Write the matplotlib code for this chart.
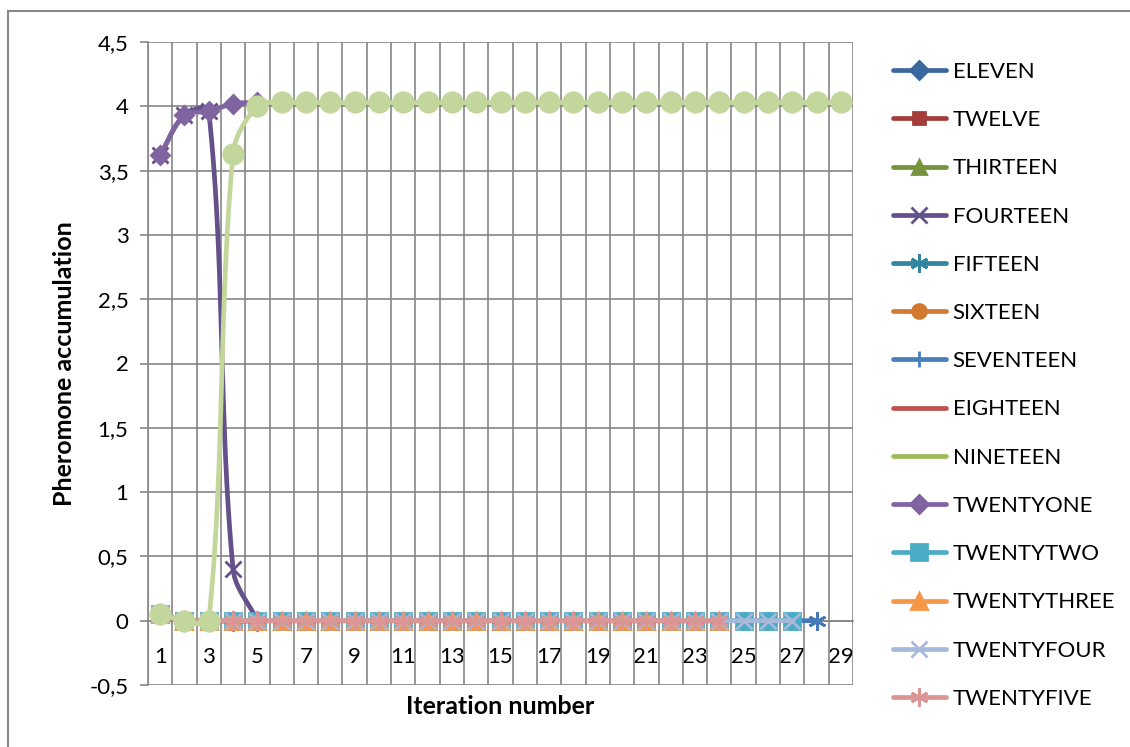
import matplotlib
matplotlib.use("Agg")
import matplotlib.pyplot as plt
import numpy as np
from matplotlib.lines import Line2D
from matplotlib.ticker import FixedLocator, FuncFormatter

plt.rcParams['font.family'] = ['Lato', 'DejaVu Sans']

# pheromone accumulation per iteration, one list per node
fourteen = [3.62, 3.93, 3.96, 0.40, 0.0]
twentyone = [3.62, 3.93, 3.96, 4.02, 4.03]
twentytwo = [0.05] + [0.0] * 26
twentythree = [0.05] + [0.0] * 23
twentyfour = [0.05] + [0.0] * 26
twentyfive = [0.05] + [0.0] * 23
twentysix = [0.05, 0.0, 0.0, 3.63, 4.0] + [4.03] * 24
twentyseven = [0.05] + [0.0] * 27
hidden_zero = [0.05, 0.0, 0.0, 0.0, 0.0]

x_labels = list(range(1, 30, 2))
y_ticks = [-0.5, 0, 0.5, 1, 1.5, 2, 2.5, 3, 3.5, 4, 4.5]

GRID = '#868686'
# pixels per data unit, used so the smoothing works in screen space
KX, KY = 705 / 29, 643 / 5


def smooth(xs, ys, n=30):
    """Smoothed line through the points (Bezier, chord-length tangents)."""
    pts = np.column_stack([np.asarray(xs, float) * KX, np.asarray(ys, float) * KY])
    if len(pts) < 3:
        return pts[:, 0] / KX, pts[:, 1] / KY
    ext = np.vstack([pts[0], pts, pts[-1]])
    t = np.linspace(0, 1, n, endpoint=False)[:, None]
    out = []
    for i in range(1, len(ext) - 2):
        p0, p1, p2, p3 = ext[i - 1], ext[i], ext[i + 1], ext[i + 2]
        seg = np.linalg.norm(p2 - p1)
        d1 = p2 - p0
        d2 = p3 - p1
        t1 = d1 / (np.linalg.norm(d1) or 1)
        t2 = d2 / (np.linalg.norm(d2) or 1)
        c1 = p1 + t1 * seg / 3
        c2 = p2 - t2 * seg / 3
        out.append((1 - t) ** 3 * p1 + 3 * (1 - t) ** 2 * t * c1
                   + 3 * (1 - t) * t ** 2 * c2 + t ** 3 * p2)
    out.append(pts[-1][None, :])
    out = np.vstack(out)
    return out[:, 0] / KX, out[:, 1] / KY


fig = plt.figure(figsize=(11.3, 7.47), dpi=100)
ax = fig.add_axes([148 / 1130, 62 / 747, 705 / 1130, 643 / 747])

asterisk = (6, 2, 0)
series = [
    # label, values, color, marker, marker size
    ('_extra', twentyseven, '#4679B8', asterisk, 13),
    ('ELEVEN', hidden_zero, '#3A67A0', 'D', 9),
    ('TWELVE', hidden_zero, '#A33C3A', 's', 9),
    ('THIRTEEN', hidden_zero, '#77933C', '^', 10),
    ('FOURTEEN', fourteen, '#64508A', 'x', 11),
    ('FIFTEEN', hidden_zero, '#31859C', asterisk, 13),
    ('SIXTEEN', hidden_zero, '#D3792F', 'o', 10),
    ('SEVENTEEN', hidden_zero, '#4A7EBB', '|', 12),
    ('EIGHTEEN', hidden_zero, '#C0504D', None, 0),
    ('NINETEEN', hidden_zero, '#9BBB59', None, 0),
    ('TWENTYONE', twentyone, '#8064A2', 'D', 9),
    ('TWENTYTWO', twentytwo, '#4BACC6', 's', 11),
    ('TWENTYTHREE', twentythree, '#F79646', '^', 11),
    ('TWENTYFOUR', twentyfour, '#A7B9DA', 'x', 11),
    ('TWENTYFIVE', twentyfive, '#D99694', asterisk, 13),
    ('_extra2', twentysix, '#C3D69B', 'o', 14),
]

handles = []
for z, (label, vals, color, marker, ms) in enumerate(series):
    xs = np.arange(1, len(vals) + 1)
    sx, sy = smooth(xs, vals)
    ax.plot(sx, sy, color=color, lw=3.4, solid_capstyle='round', zorder=3 + z)
    if marker is not None:
        ax.plot(xs, vals, ls='none', marker=marker, ms=ms, color=color,
                mec=color, mew=2, zorder=3 + z, clip_on=False)
    if not label.startswith('_'):
        handles.append(Line2D([], [], color=color, lw=3.4, marker=marker,
                              ms=ms, mec=color, mew=2, solid_capstyle='round',
                              label=label))

ax.set_xlim(0.5, 29.5)
ax.set_ylim(-0.5, 4.5)

ax.xaxis.set_major_locator(FixedLocator(x_labels))
ax.xaxis.set_minor_locator(FixedLocator(np.arange(0.5, 30, 1)))
ax.yaxis.set_major_locator(FixedLocator(y_ticks))
ax.yaxis.set_major_formatter(FuncFormatter(lambda v, p: f'{v:g}'.replace('.', ',')))

ax.grid(True, which='minor', axis='x', color=GRID, lw=1.2, zorder=0)
ax.grid(True, which='major', axis='y', color=GRID, lw=1.2, zorder=0)
ax.set_axisbelow(True)

for side in ('top', 'right'):
    ax.spines[side].set_visible(False)
ax.spines['bottom'].set_position(('data', 0))
ax.spines['bottom'].set_color(GRID)
ax.spines['bottom'].set_linewidth(1.2)
ax.spines['left'].set_color(GRID)
ax.spines['left'].set_linewidth(1.2)

ax.tick_params(axis='x', which='both', length=0, pad=19, labelsize=16)
ax.tick_params(axis='y', length=6, width=1.2, color=GRID, pad=8, labelsize=16)

ax.set_ylabel('Pheromone accumulation', fontsize=18, fontweight='bold', labelpad=10)
fig.text(500 / 1130, 1 - 706 / 747, 'Iteration number', fontsize=18,
         fontweight='bold', ha='center', va='center')

fig.legend(handles=handles, loc='upper left', bbox_to_anchor=(884 / 1130, 1 - 53 / 747),
           frameon=False, fontsize=16, handlelength=2.39, handletextpad=0.3,
           labelspacing=1.27, numpoints=1, borderaxespad=0)

# outer chart frame
fig.add_artist(Line2D([8 / 1130, 8 / 1130], [0, 1 - 11 / 747], color='#888888', lw=1.5))
fig.add_artist(Line2D([8 / 1130, 1], [1 - 11 / 747, 1 - 11 / 747], color='#888888', lw=1.5))

fig.savefig('out.png', dpi=100)
